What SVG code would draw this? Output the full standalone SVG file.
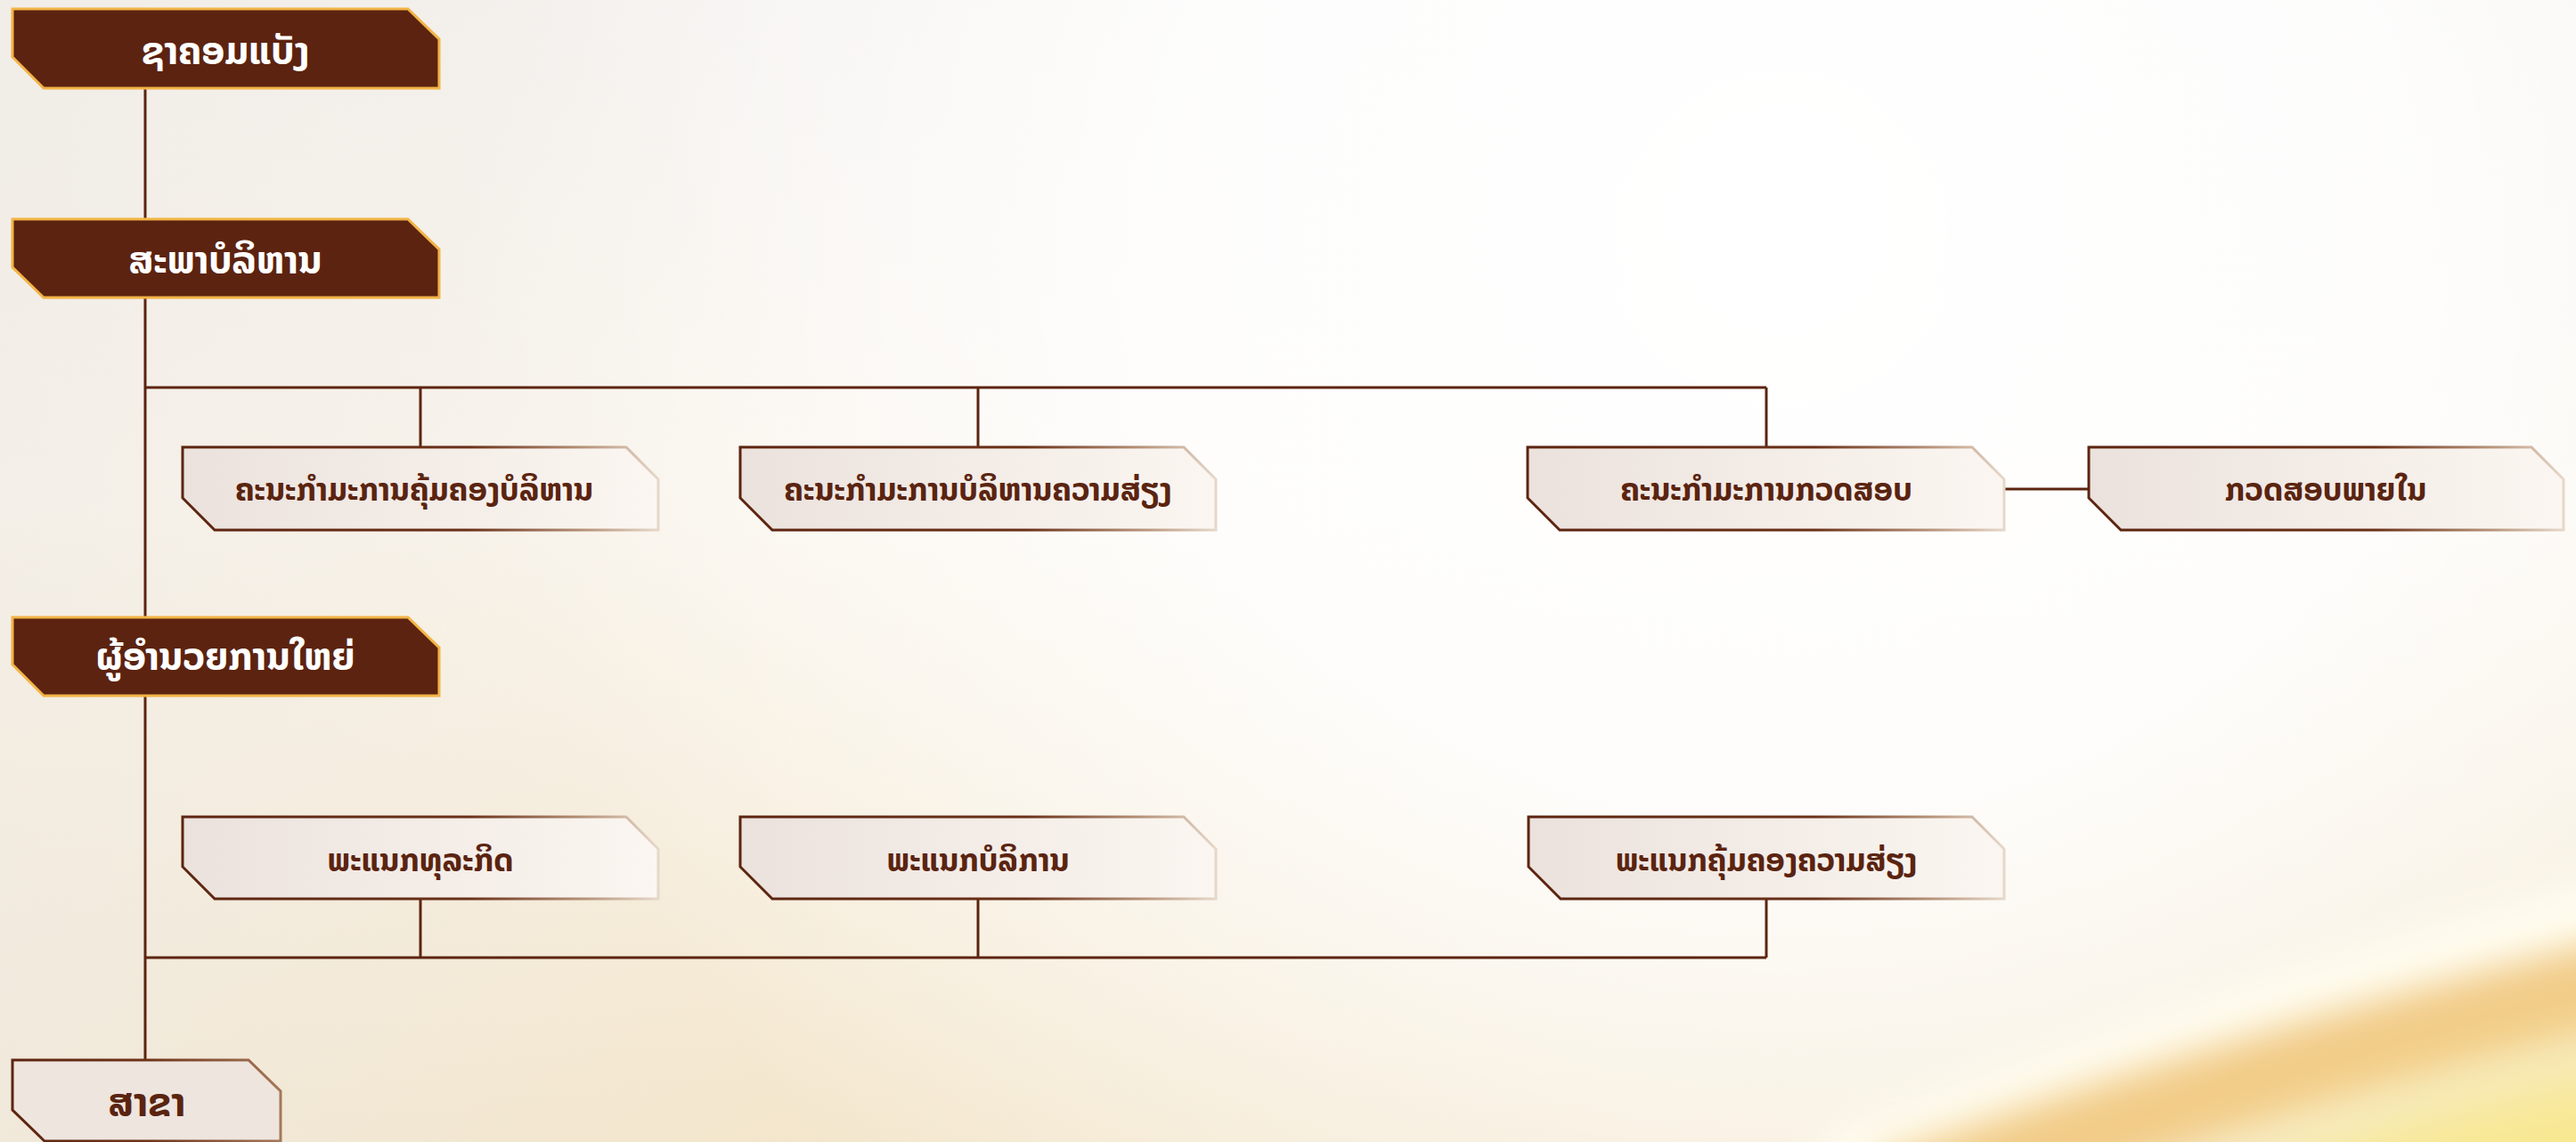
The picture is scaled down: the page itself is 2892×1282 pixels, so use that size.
<svg xmlns="http://www.w3.org/2000/svg" width="2892" height="1282" viewBox="0 0 2892 1282">
  <defs>
    <linearGradient id="bgBase" x1="0" y1="0" x2="0" y2="1">
      <stop offset="0" stop-color="#F4F1EE"/>
      <stop offset="0.45" stop-color="#FAF5EC"/>
      <stop offset="1" stop-color="#F3E6CC"/>
    </linearGradient>
    <radialGradient id="glow" cx="2000" cy="250" r="1500" gradientUnits="userSpaceOnUse">
      <stop offset="0" stop-color="#FFFFFF" stop-opacity="1"/>
      <stop offset="0.45" stop-color="#FFFFFF" stop-opacity="0.85"/>
      <stop offset="1" stop-color="#FFFFFF" stop-opacity="0"/>
    </radialGradient>
    <linearGradient id="leftShade" x1="0" y1="0" x2="1" y2="0">
      <stop offset="0" stop-color="#EFEAE3" stop-opacity="0.6"/>
      <stop offset="0.3" stop-color="#EFEAE3" stop-opacity="0"/>
    </linearGradient>
    <filter id="blur40" x="-20%" y="-50%" width="140%" height="200%">
      <feGaussianBlur stdDeviation="22"/>
    </filter>
    <filter id="blur60" x="-30%" y="-60%" width="160%" height="220%">
      <feGaussianBlur stdDeviation="45"/>
    </filter>
    <linearGradient id="lightFill" x1="0" y1="0" x2="1" y2="0">
      <stop offset="0" stop-color="#EBE2DD"/>
      <stop offset="1" stop-color="#FBF6F1"/>
    </linearGradient>
    <linearGradient id="lightStroke" x1="0" y1="0" x2="1" y2="0">
      <stop offset="0" stop-color="#5C2410"/>
      <stop offset="0.6" stop-color="#6A3018"/>
      <stop offset="0.85" stop-color="#B8957C"/>
      <stop offset="1" stop-color="#E6D8CA"/>
    </linearGradient>
    <linearGradient id="sakhaStroke" x1="0" y1="0" x2="1" y2="0">
      <stop offset="0" stop-color="#5C2410"/>
      <stop offset="0.5" stop-color="#6E3418"/>
      <stop offset="1" stop-color="#A57858"/>
    </linearGradient>
    <style>
      .dark { fill: #5C2310; stroke: #F2B446; stroke-width: 3; }
      .light { fill: url(#lightFill); stroke: url(#lightStroke); stroke-width: 3; }
      .sakha { fill: #EEE5DF; stroke: url(#sakhaStroke); stroke-width: 3; }
      .tw { fill: #FFFFFF; font-family: "Noto Sans Lao", "Noto Sans", "DejaVu Sans", sans-serif; font-weight: bold; font-size: 43px; text-anchor: middle; }
      .tb { fill: #5A2410; font-family: "Noto Sans Lao", "Noto Sans", "DejaVu Sans", sans-serif; font-weight: bold; font-size: 35.5px; text-anchor: middle; }
      .ts { fill: #5A2410; font-family: "Noto Sans Lao", "Noto Sans", "DejaVu Sans", sans-serif; font-weight: bold; font-size: 44px; text-anchor: middle; }
      .conn { fill: none; stroke: #5C2410; stroke-width: 3; }
    </style>
  </defs>

  <g id="background">
    <rect x="0" y="0" width="2892" height="1282" fill="url(#bgBase)"/>
    <rect x="0" y="0" width="2892" height="1282" fill="url(#glow)"/>
    <rect x="0" y="0" width="2892" height="1282" fill="url(#leftShade)"/>
    <path d="M2050,1320 Q2480,1150 2980,1010" fill="none" stroke="#FFFDF0" stroke-width="80" filter="url(#blur40)"/>
    <path d="M2120,1350 Q2500,1210 2980,1095" fill="none" stroke="#F2CC88" stroke-width="100" filter="url(#blur40)"/>
    <ellipse cx="2840" cy="1330" rx="480" ry="120" transform="rotate(-14 2840 1330)" fill="#F8E890" filter="url(#blur60)"/>
  </g>

  <g id="connectors">
    <path class="conn" d="M163,99 V246"/>
    <path class="conn" d="M163,334 V693"/>
    <path class="conn" d="M163,781 V1190"/>
    <path class="conn" d="M163,435 H1983"/>
    <path class="conn" d="M472,435 V502"/>
    <path class="conn" d="M1098,435 V502"/>
    <path class="conn" d="M1983,435 V502"/>
    <path class="conn" d="M2250,549 H2345"/>
    <path class="conn" d="M472,1009 V1075"/>
    <path class="conn" d="M1098,1009 V1075"/>
    <path class="conn" d="M1983,1009 V1075"/>
    <path class="conn" d="M163,1075 H1983"/>
  </g>

  <g id="node-board">
    <polygon class="dark" points="14,10 458,10 493,44 493,99 49,99 14,64"/>
    <text class="tw" x="253" y="72">ຊາຄອມແບັງ</text>
  </g>
  <g id="node-directors">
    <polygon class="dark" points="14,246 458,246 493,280 493,334 49,334 14,300"/>
    <text class="tw" x="253" y="307">ສະພາບໍລິຫານ</text>
  </g>
  <g id="node-ceo">
    <polygon class="dark" points="14,693 458,693 493,727 493,781 49,781 14,746"/>
    <text class="tw" x="253" y="752">ຜູ້ອຳນວຍການໃຫຍ່</text>
  </g>

  <g id="node-exec-committee">
    <polygon class="light" points="205,502 703,502 739,538 739,595 241,595 205,559"/>
    <text class="tb" x="465" y="562">ຄະນະກຳມະການຄຸ້ມຄອງບໍລິຫານ</text>
  </g>
  <g id="node-risk-committee">
    <polygon class="light" points="831,502 1329,502 1365,538 1365,595 867,595 831,559"/>
    <text class="tb" x="1098" y="562">ຄະນະກຳມະການບໍລິຫານຄວາມສ່ຽງ</text>
  </g>
  <g id="node-audit-committee">
    <polygon class="light" points="1715,502 2214,502 2250,538 2250,595 1751,595 1715,559"/>
    <text class="tb" x="1983" y="562">ຄະນະກຳມະການກວດສອບ</text>
  </g>
  <g id="node-internal-audit">
    <polygon class="light" points="2345,502 2842,502 2878,538 2878,595 2381,595 2345,559"/>
    <text class="tb" x="2611" y="562">ກວດສອບພາຍໃນ</text>
  </g>

  <g id="node-business-dept">
    <polygon class="light" points="205,917 703,917 739,953 739,1009 241,1009 205,973"/>
    <text class="tb" x="472" y="978">ພະແນກທຸລະກິດ</text>
  </g>
  <g id="node-admin-dept">
    <polygon class="light" points="831,917 1329,917 1365,953 1365,1009 867,1009 831,973"/>
    <text class="tb" x="1098" y="978">ພະແນກບໍລິການ</text>
  </g>
  <g id="node-risk-dept">
    <polygon class="light" points="1716,917 2214,917 2250,953 2250,1009 1752,1009 1716,973"/>
    <text class="tb" x="1983" y="978">ພະແນກຄຸ້ມຄອງຄວາມສ່ຽງ</text>
  </g>

  <g id="node-branch">
    <polygon class="sakha" points="14,1190 279,1190 315,1225 315,1281 50,1281 14,1246"/>
    <text class="ts" x="165" y="1253">ສາຂາ</text>
  </g>
</svg>
